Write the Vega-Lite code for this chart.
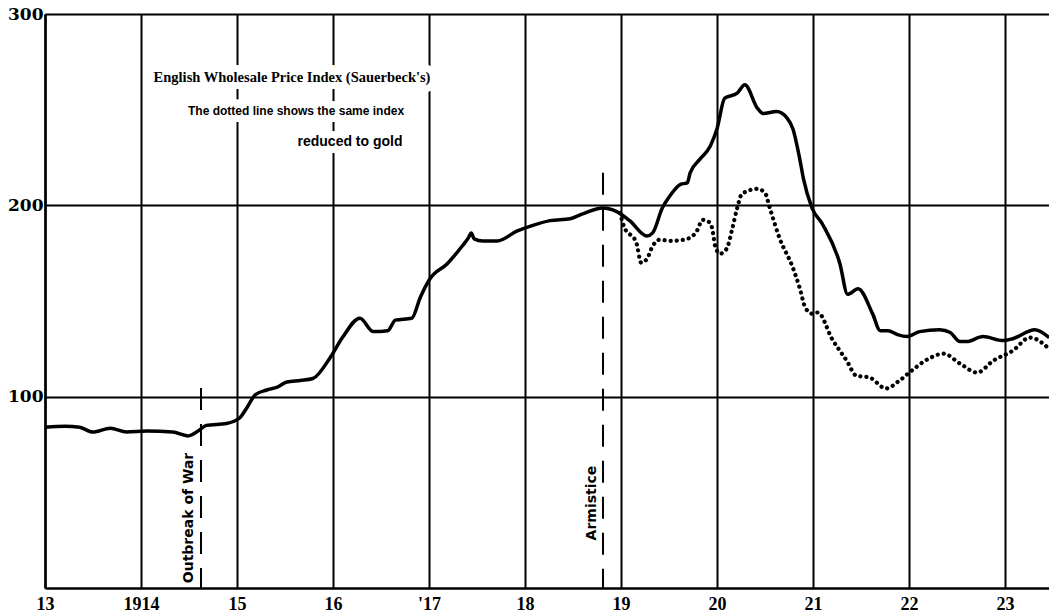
{
  "$schema": "https://vega.github.io/schema/vega-lite/v6.json",
  "width": 1004,
  "height": 574,
  "autosize": {"type": "none"},
  "padding": {"left": 45, "top": 14, "right": 0, "bottom": 25},
  "background": "white",
  "config": {"view": {"stroke": null}},
  "datasets": {
    "series": [
      {"s": "index", "year": 1913.0, "value": 84},
      {"s": "index", "year": 1913.21, "value": 84.5},
      {"s": "index", "year": 1913.36, "value": 84},
      {"s": "index", "year": 1913.5, "value": 81.5},
      {"s": "index", "year": 1913.68, "value": 83.5},
      {"s": "index", "year": 1913.85, "value": 81.5},
      {"s": "index", "year": 1914.06, "value": 82},
      {"s": "index", "year": 1914.33, "value": 81.5},
      {"s": "index", "year": 1914.49, "value": 79.5},
      {"s": "index", "year": 1914.61, "value": 82.6},
      {"s": "index", "year": 1914.68, "value": 85},
      {"s": "index", "year": 1914.89, "value": 86},
      {"s": "index", "year": 1915.03, "value": 89},
      {"s": "index", "year": 1915.1, "value": 94},
      {"s": "index", "year": 1915.19, "value": 101},
      {"s": "index", "year": 1915.31, "value": 103.5},
      {"s": "index", "year": 1915.42, "value": 105},
      {"s": "index", "year": 1915.52, "value": 107.7},
      {"s": "index", "year": 1915.66, "value": 108.5},
      {"s": "index", "year": 1915.79, "value": 109.5},
      {"s": "index", "year": 1915.97, "value": 120.4},
      {"s": "index", "year": 1916.1, "value": 131},
      {"s": "index", "year": 1916.28, "value": 141},
      {"s": "index", "year": 1916.42, "value": 134},
      {"s": "index", "year": 1916.57, "value": 134.5},
      {"s": "index", "year": 1916.65, "value": 140},
      {"s": "index", "year": 1916.82, "value": 141},
      {"s": "index", "year": 1916.91, "value": 152},
      {"s": "index", "year": 1917.01, "value": 161.6},
      {"s": "index", "year": 1917.19, "value": 169.5},
      {"s": "index", "year": 1917.35, "value": 179},
      {"s": "index", "year": 1917.41, "value": 183},
      {"s": "index", "year": 1917.44, "value": 185.6},
      {"s": "index", "year": 1917.47, "value": 182.5},
      {"s": "index", "year": 1917.56, "value": 181.4},
      {"s": "index", "year": 1917.71, "value": 181.4},
      {"s": "index", "year": 1917.92, "value": 186.6},
      {"s": "index", "year": 1918.05, "value": 189},
      {"s": "index", "year": 1918.26, "value": 192},
      {"s": "index", "year": 1918.47, "value": 193},
      {"s": "index", "year": 1918.6, "value": 195.5},
      {"s": "index", "year": 1918.81, "value": 198.6},
      {"s": "index", "year": 1918.96, "value": 196.6},
      {"s": "index", "year": 1919.09, "value": 192},
      {"s": "index", "year": 1919.27, "value": 184},
      {"s": "index", "year": 1919.33, "value": 185.6},
      {"s": "index", "year": 1919.43, "value": 198.6},
      {"s": "index", "year": 1919.51, "value": 205},
      {"s": "index", "year": 1919.62, "value": 211},
      {"s": "index", "year": 1919.69, "value": 211.7},
      {"s": "index", "year": 1919.72, "value": 217},
      {"s": "index", "year": 1919.82, "value": 224},
      {"s": "index", "year": 1919.93, "value": 231},
      {"s": "index", "year": 1920.0, "value": 240},
      {"s": "index", "year": 1920.08, "value": 256},
      {"s": "index", "year": 1920.21, "value": 258.6},
      {"s": "index", "year": 1920.29, "value": 263},
      {"s": "index", "year": 1920.42, "value": 250.8},
      {"s": "index", "year": 1920.48, "value": 248},
      {"s": "index", "year": 1920.62, "value": 249},
      {"s": "index", "year": 1920.73, "value": 245.6},
      {"s": "index", "year": 1920.79, "value": 240},
      {"s": "index", "year": 1920.86, "value": 224.7},
      {"s": "index", "year": 1920.9, "value": 214},
      {"s": "index", "year": 1920.99, "value": 198.6},
      {"s": "index", "year": 1921.1, "value": 190},
      {"s": "index", "year": 1921.28, "value": 169.5},
      {"s": "index", "year": 1921.36, "value": 153.5},
      {"s": "index", "year": 1921.47, "value": 156.4},
      {"s": "index", "year": 1921.62, "value": 143.4},
      {"s": "index", "year": 1921.7, "value": 134.5},
      {"s": "index", "year": 1921.78, "value": 134.5},
      {"s": "index", "year": 1921.88, "value": 132.4},
      {"s": "index", "year": 1921.98, "value": 131.4},
      {"s": "index", "year": 1922.11, "value": 134},
      {"s": "index", "year": 1922.32, "value": 135},
      {"s": "index", "year": 1922.43, "value": 133.5},
      {"s": "index", "year": 1922.53, "value": 128.8},
      {"s": "index", "year": 1922.6, "value": 128.8},
      {"s": "index", "year": 1922.77, "value": 131.4},
      {"s": "index", "year": 1922.98, "value": 129.3},
      {"s": "index", "year": 1923.08, "value": 130.3},
      {"s": "index", "year": 1923.31, "value": 135},
      {"s": "index", "year": 1923.46, "value": 130.9},
      {"s": "gold", "year": 1918.99, "value": 196},
      {"s": "gold", "year": 1919.03, "value": 189},
      {"s": "gold", "year": 1919.16, "value": 180.4},
      {"s": "gold", "year": 1919.21, "value": 170},
      {"s": "gold", "year": 1919.27, "value": 172},
      {"s": "gold", "year": 1919.33, "value": 178.8},
      {"s": "gold", "year": 1919.4, "value": 182},
      {"s": "gold", "year": 1919.53, "value": 181.4},
      {"s": "gold", "year": 1919.69, "value": 182.5},
      {"s": "gold", "year": 1919.79, "value": 186.6},
      {"s": "gold", "year": 1919.85, "value": 192.4},
      {"s": "gold", "year": 1919.93, "value": 190.8},
      {"s": "gold", "year": 1919.96, "value": 185},
      {"s": "gold", "year": 1919.98, "value": 178.8},
      {"s": "gold", "year": 1920.03, "value": 174.7},
      {"s": "gold", "year": 1920.1, "value": 177.3},
      {"s": "gold", "year": 1920.16, "value": 188},
      {"s": "gold", "year": 1920.21, "value": 198.6},
      {"s": "gold", "year": 1920.26, "value": 206},
      {"s": "gold", "year": 1920.42, "value": 208.6},
      {"s": "gold", "year": 1920.5, "value": 206.5},
      {"s": "gold", "year": 1920.55, "value": 198.6},
      {"s": "gold", "year": 1920.65, "value": 183},
      {"s": "gold", "year": 1920.79, "value": 167.4},
      {"s": "gold", "year": 1920.86, "value": 157},
      {"s": "gold", "year": 1920.92, "value": 146.5},
      {"s": "gold", "year": 1920.99, "value": 143.4},
      {"s": "gold", "year": 1921.05, "value": 144},
      {"s": "gold", "year": 1921.2, "value": 130},
      {"s": "gold", "year": 1921.35, "value": 118.9},
      {"s": "gold", "year": 1921.45, "value": 111},
      {"s": "gold", "year": 1921.59, "value": 110},
      {"s": "gold", "year": 1921.76, "value": 104.3},
      {"s": "gold", "year": 1921.9, "value": 108.4},
      {"s": "gold", "year": 1922.03, "value": 113.7},
      {"s": "gold", "year": 1922.21, "value": 120},
      {"s": "gold", "year": 1922.36, "value": 122.5},
      {"s": "gold", "year": 1922.53, "value": 117.3},
      {"s": "gold", "year": 1922.71, "value": 112.6},
      {"s": "gold", "year": 1922.88, "value": 118.9},
      {"s": "gold", "year": 1923.08, "value": 124},
      {"s": "gold", "year": 1923.26, "value": 130.9},
      {"s": "gold", "year": 1923.46, "value": 125}
    ],
    "events": [
      {"event": "Outbreak of War", "year": 1914.625, "bottom": 0, "top": 104.5, "ly": 36.6, "lx": 1914.5},
      {"event": "Armistice", "year": 1918.8125, "bottom": 0, "top": 217, "ly": 44.4, "lx": 1918.7}
    ],
    "notes": [
      {"kind": "title", "text": "English Wholesale Price Index (Sauerbeck's)", "year": 1915.573, "value": 266.5},
      {"kind": "sub", "text": "The dotted line shows the same index", "year": 1915.615, "value": 249.3},
      {"kind": "sub2", "text": "reduced to gold", "year": 1916.177, "value": 233.1}
    ]
  },
  "layer": [
    {
      "data": {"name": "series"},
      "transform": [{"filter": "datum.s === 'index'"}],
      "mark": {"type": "line", "color": "black", "strokeWidth": 3.5, "interpolate": "monotone", "clip": true},
      "encoding": {
        "x": {
          "field": "year", "type": "quantitative",
          "scale": {"domain": [1913, 1923.458], "nice": false, "zero": false},
          "axis": {
            "title": null,
            "values": [1913, 1914, 1915, 1916, 1917, 1918, 1919, 1920, 1921, 1922, 1923],
            "labelExpr": "datum.value == 1914 ? '1914' : (datum.value == 1917 ? \"'17\" : substring(toString(datum.value), 2))",
            "grid": true, "gridColor": "black", "gridWidth": 2, "gridOpacity": 1,
            "domain": true, "domainColor": "black", "domainWidth": 2.5,
            "ticks": false, "labelPadding": 7, "labelFlush": false,
            "labelFont": "Liberation Serif", "labelFontWeight": "bold", "labelFontSize": 18, "labelColor": "black"
          }
        },
        "y": {
          "field": "value", "type": "quantitative",
          "scale": {"domain": [0, 300], "nice": false},
          "axis": {
            "title": null,
            "values": [100, 200, 300],
            "grid": true, "gridColor": "black", "gridWidth": 2, "gridOpacity": 1,
            "domain": true, "domainColor": "black", "domainWidth": 2.5,
            "ticks": false, "labelPadding": 2,
            "labelFont": "DejaVu Serif", "labelFontWeight": "bold", "labelFontSize": 17, "labelColor": "black"
          }
        }
      }
    },
    {
      "data": {"name": "series"},
      "transform": [{"filter": "datum.s === 'gold'"}],
      "mark": {"type": "line", "color": "black", "strokeWidth": 4.2, "strokeDash": [0.1, 6], "strokeCap": "round", "interpolate": "monotone", "clip": true},
      "encoding": {
        "x": {"field": "year", "type": "quantitative"},
        "y": {"field": "value", "type": "quantitative"}
      }
    },
    {
      "data": {"name": "events"},
      "mark": {"type": "rule", "color": "black", "strokeWidth": 2, "strokeDash": [22, 14]},
      "encoding": {
        "x": {"field": "year", "type": "quantitative"},
        "y": {"field": "top", "type": "quantitative"},
        "y2": {"field": "bottom"}
      }
    },
    {
      "data": {"name": "events"},
      "mark": {"type": "text", "angle": 270, "align": "center", "baseline": "middle", "font": "DejaVu Sans", "fontWeight": "bold", "fontSize": 14, "color": "black"},
      "encoding": {
        "x": {"field": "lx", "type": "quantitative"},
        "y": {"field": "ly", "type": "quantitative"},
        "text": {"field": "event"}
      }
    },
    {
      "data": {"name": "notes"},
      "transform": [{"filter": "datum.kind === 'title'"}],
      "mark": {"type": "text", "align": "center", "baseline": "middle", "stroke": "white", "strokeWidth": 14, "fill": "white", "font": "Liberation Serif", "fontWeight": "bold", "fontSize": 14.5},
      "encoding": {
        "x": {"field": "year", "type": "quantitative"},
        "y": {"field": "value", "type": "quantitative"},
        "text": {"field": "text"}
      }
    },
    {
      "data": {"name": "notes"},
      "transform": [{"filter": "datum.kind === 'sub'"}],
      "mark": {"type": "text", "align": "center", "baseline": "middle", "stroke": "white", "strokeWidth": 14, "fill": "white", "font": "Liberation Sans", "fontWeight": "bold", "fontSize": 12},
      "encoding": {
        "x": {"field": "year", "type": "quantitative"},
        "y": {"field": "value", "type": "quantitative"},
        "text": {"field": "text"}
      }
    },
    {
      "data": {"name": "notes"},
      "transform": [{"filter": "datum.kind === 'sub2'"}],
      "mark": {"type": "text", "align": "center", "baseline": "middle", "stroke": "white", "strokeWidth": 14, "fill": "white", "font": "Liberation Sans", "fontWeight": "bold", "fontSize": 14},
      "encoding": {
        "x": {"field": "year", "type": "quantitative"},
        "y": {"field": "value", "type": "quantitative"},
        "text": {"field": "text"}
      }
    },
    {
      "data": {"name": "notes"},
      "transform": [{"filter": "datum.kind === 'title'"}],
      "mark": {"type": "text", "align": "center", "baseline": "middle", "font": "Liberation Serif", "fontWeight": "bold", "fontSize": 14.5, "color": "black"},
      "encoding": {
        "x": {"field": "year", "type": "quantitative"},
        "y": {"field": "value", "type": "quantitative"},
        "text": {"field": "text"}
      }
    },
    {
      "data": {"name": "notes"},
      "transform": [{"filter": "datum.kind === 'sub'"}],
      "mark": {"type": "text", "align": "center", "baseline": "middle", "font": "Liberation Sans", "fontWeight": "bold", "fontSize": 12, "color": "black"},
      "encoding": {
        "x": {"field": "year", "type": "quantitative"},
        "y": {"field": "value", "type": "quantitative"},
        "text": {"field": "text"}
      }
    },
    {
      "data": {"name": "notes"},
      "transform": [{"filter": "datum.kind === 'sub2'"}],
      "mark": {"type": "text", "align": "center", "baseline": "middle", "font": "Liberation Sans", "fontWeight": "bold", "fontSize": 14, "color": "black"},
      "encoding": {
        "x": {"field": "year", "type": "quantitative"},
        "y": {"field": "value", "type": "quantitative"},
        "text": {"field": "text"}
      }
    }
  ]
}
